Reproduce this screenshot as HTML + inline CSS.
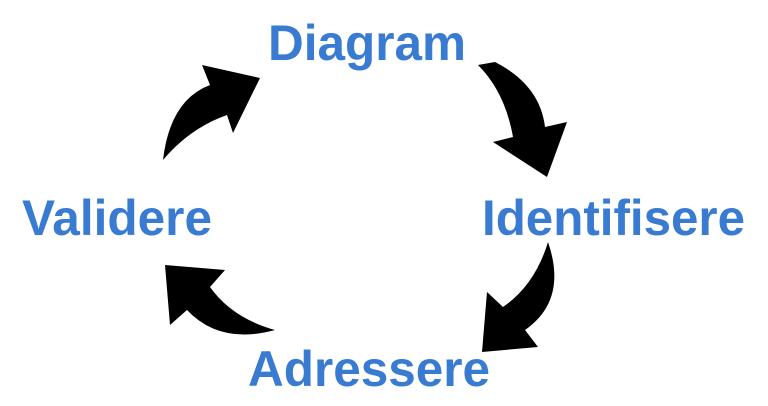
<!DOCTYPE html>
<html><head><style>
html,body{margin:0;padding:0;background:#fff;}
svg{display:block;}
text{font-family:"Liberation Sans",sans-serif;font-weight:bold;fill:#3a7bd2;font-size:50px;}
</style></head><body>
<svg width="768" height="406" viewBox="0 0 768 406" xmlns="http://www.w3.org/2000/svg">
<text x="268" y="60" textLength="198" lengthAdjust="spacingAndGlyphs">Diagram</text>
<text x="22" y="235" textLength="190" lengthAdjust="spacingAndGlyphs">Validere</text>
<text x="482" y="235" textLength="263" lengthAdjust="spacingAndGlyphs">Identifisere</text>
<text x="248" y="386" textLength="242" lengthAdjust="spacingAndGlyphs">Adressere</text>
<g fill="#000">
<path d="M163,160 Q170,100 210,85 L202,65 L260,78 L233,133 L227,115 Q190,128 163,160 Z"/>
<path d="M478,65 L495,62 Q540,85 545,127 L567,122 L547,177 L493,142 L513,137 Q505,92 478,65 Z"/>
<path d="M548,242 Q568,300 525,330 L538,347 L482,352 L487,292 L503,307 Q535,285 548,242 Z"/>
<path d="M275,330 Q232,318 210,287 L225,270 L165,265 L170,325 L187,310 Q220,345 275,330 Z"/>
</g>
</svg>
</body></html>
